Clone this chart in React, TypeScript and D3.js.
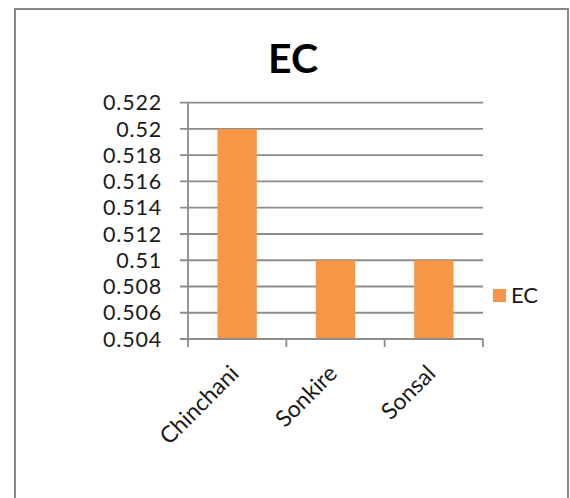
import React from "react";
import * as d3 from "d3";

const categories = ["Chinchani", "Sonkire", "Sonsal"];
const ecValues = [0.52, 0.51, 0.51];
const yTicks = [0.504, 0.506, 0.508, 0.51, 0.512, 0.514, 0.516, 0.518, 0.52, 0.522];
const seriesName = "EC";
const title = "EC";

export default function App() {
  const W = 570, H = 498;
  const x0 = 188, x1 = 483, yTop = 102.7, yBot = 339;
  const x = d3.scaleBand<string>().domain(categories).range([x0, x1]).paddingInner(0.6).paddingOuter(0.3);
  const band = d3.scaleBand<string>().domain(categories).range([x0, x1]);
  const y = d3.scaleLinear().domain([0.504, 0.522]).range([yBot, yTop]);
  const fmt = (v: number) => String(+v.toFixed(3));
  const grid = "#8c8c8c";
  const font = "Lato, 'Open Sans', sans-serif";
  return (
    <svg width={W} height={H} style={{ position: "absolute", left: 0, top: 0, background: "#fff" }}>
      <text x={246} y={-6} fontFamily={font} fontSize={20} fill="#222">g</text>
      <rect x={15} y={9} width={553} height={520} fill="#fff" stroke="#888" strokeWidth={2} />
      <text x={293} y={73} textAnchor="middle" fontFamily={font} fontWeight="bold" fontSize={41} fill="#000">{title}</text>
      {yTicks.map((t) => (
        <g key={t}>
          <line x1={x0 - 8} x2={x1} y1={y(t)} y2={y(t)} stroke={grid} strokeWidth={1.8} />
          <text x={162} y={y(t)} dy="0.36em" textAnchor="end" fontFamily={font} fontSize={21.5} letterSpacing={0.8} fill="#1a1a1a">{fmt(t)}</text>
        </g>
      ))}
      {categories.map((c, i) => (
        <rect key={c} x={x(c)} width={x.bandwidth()} y={y(ecValues[i])} height={yBot - y(ecValues[i])} fill="#F79646" />
      ))}
      <line x1={x0} x2={x0} y1={yTop} y2={yBot} stroke={grid} strokeWidth={1.8} />
      <line x1={x0} x2={x1} y1={yBot} y2={yBot} stroke={grid} strokeWidth={1.8} />
      {[...categories.map((c) => band(c) as number), x1].map((t, i) => (
        <line key={i} x1={t} x2={t} y1={yBot} y2={yBot + 8} stroke={grid} strokeWidth={1.8} />
      ))}
      {categories.map((c) => {
        const cx = (band(c) as number) + band.bandwidth() / 2;
        const px = cx + 3, py = yBot + 36;
        return (
          <text key={c} x={px} y={py} transform={`rotate(-45 ${px} ${py})`} textAnchor="end" fontFamily={font} fontSize={23} fill="#1a1a1a">{c}</text>
        );
      })}
      <rect x={493} y={289} width={13} height={13} fill="#F79646" />
      <text x={511} y={303} fontFamily={font} fontSize={22} fill="#1a1a1a">{seriesName}</text>
    </svg>
  );
}
